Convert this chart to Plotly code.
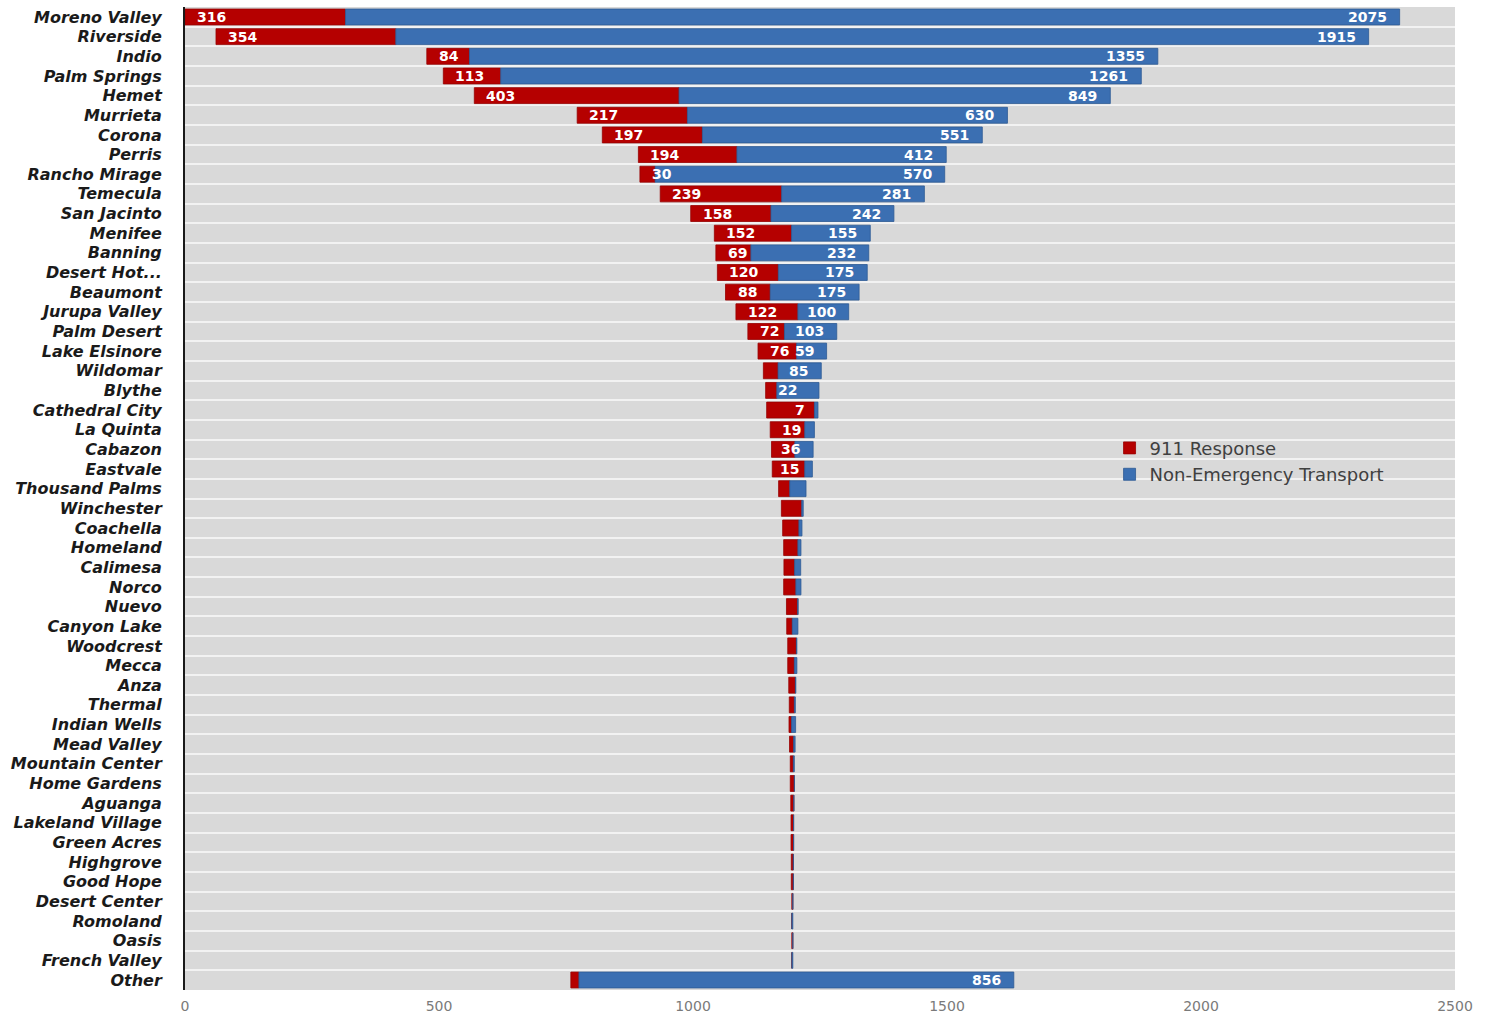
import numpy as np
import plotly.graph_objects as go

cities = ["Moreno Valley", "Riverside", "Indio", "Palm Springs", "Hemet", "Murrieta",
          "Corona", "Perris", "Rancho Mirage", "Temecula", "San Jacinto", "Menifee",
          "Banning", "Desert Hot...", "Beaumont", "Jurupa Valley", "Palm Desert",
          "Lake Elsinore", "Wildomar", "Blythe", "Cathedral City", "La Quinta", "Cabazon",
          "Eastvale", "Thousand Palms", "Winchester", "Coachella", "Homeland", "Calimesa",
          "Norco", "Nuevo", "Canyon Lake", "Woodcrest", "Mecca", "Anza", "Thermal",
          "Indian Wells", "Mead Valley", "Mountain Center", "Home Gardens", "Aguanga",
          "Lakeland Village", "Green Acres", "Highgrove", "Good Hope", "Desert Center",
          "Romoland", "Oasis", "French Valley", "Other"]

response_911 = [316, 354, 84, 113, 403, 217, 197, 194, 30, 239, 158, 152, 69, 120, 88,
                122, 72, 76, 29, 22, 94, 68, 46, 64, 22, 40, 32, 28, 21, 24, 22, 11, 17,
                13, 13, 10, 5, 8, 6, 8, 6, 5, 5, 4, 4, 2, 0, 2, 0, 16]

non_emergency = [2075, 1915, 1355, 1261, 849, 630, 551, 412, 570, 281, 242, 155, 232,
                 175, 175, 100, 103, 59, 85, 83, 7, 19, 36, 15, 32, 3, 6, 6, 12, 10, 1,
                 11, 1, 5, 1, 2, 8, 3, 2, 0, 0, 0, 0, 0, 0, 0, 2, 0, 2, 856]

red_labels = ["316", "354", "84", "113", "403", "217", "197", "194", "30", "239", "158",
              "152", "69", "120", "88", "122", "72", "76", "", "22"] + [""] * 30

blue_labels = ["2075", "1915", "1355", "1261", "849", "630", "551", "412", "570", "281",
               "242", "155", "232", "175", "175", "100", "103", "59", "85", "", "7", "19",
               "36", "15"] + [""] * 25 + ["856"]

x_ticks = [0, 500, 1000, 1500, 2000, 2500]

red = np.array(response_911, dtype=float)
blue = np.array(non_emergency, dtype=float)
total = red + blue
offset = (total.max() - total) / 2.0

fig = go.Figure()
fig.add_trace(go.Bar(
    y=cities, x=red, base=offset, orientation="h", name="911 Response",
    marker=dict(color="#b50000", line=dict(color="#980000", width=0.8)),
    legendgroup="a", hoverinfo="x+y"))
fig.add_trace(go.Bar(
    y=cities, x=blue, base=offset + red, orientation="h", name="Non-Emergency Transport",
    marker=dict(color="#3b6fb2", line=dict(color="#2d5a94", width=0.8)),
    legendgroup="b", hoverinfo="x+y"))

annotations = []
lab_font = dict(family="DejaVu Sans", size=14, color="white", weight="bold")
for i, c in enumerate(cities):
    if red_labels[i]:
        annotations.append(dict(x=offset[i], y=c, text=red_labels[i], xanchor="left",
                                xshift=10, showarrow=False, font=lab_font))
    if blue_labels[i]:
        annotations.append(dict(x=offset[i] + red[i] + blue[i], y=c, text=blue_labels[i],
                                xanchor="right", xshift=-11, showarrow=False, font=lab_font))

fig.update_layout(
    width=1492, height=1015, autosize=False,
    margin=dict(l=185, r=37, t=7, b=25),
    paper_bgcolor="white", plot_bgcolor="#d9d9d9",
    barmode="overlay", bargap=0.19,
    showlegend=True,
    legend=dict(x=0.728, y=0.570, xanchor="left", yanchor="top",
                bgcolor="rgba(0,0,0,0)", tracegroupgap=0,
                font=dict(family="DejaVu Sans", size=18, color="#404040")),
    annotations=annotations,
    xaxis=dict(range=[0, 2500], tickvals=x_ticks, showgrid=False, zeroline=False,
               showline=False, ticks="", ticklabelstandoff=6, automargin=False,
               tickfont=dict(family="DejaVu Sans", size=14, color="#7a7a7a")),
    yaxis=dict(type="category", autorange="reversed", tickson="boundaries",
               showgrid=True, gridcolor="#f2f2f2", gridwidth=2, automargin=False,
               showline=True, linecolor="#1a1a1a", linewidth=2, ticks="",
               ticklabelstandoff=18,
               tickfont=dict(family="DejaVu Sans", size=16, color="#1a1a1a",
                             weight="bold", style="italic")),
)

fig.write_html("out.html")
